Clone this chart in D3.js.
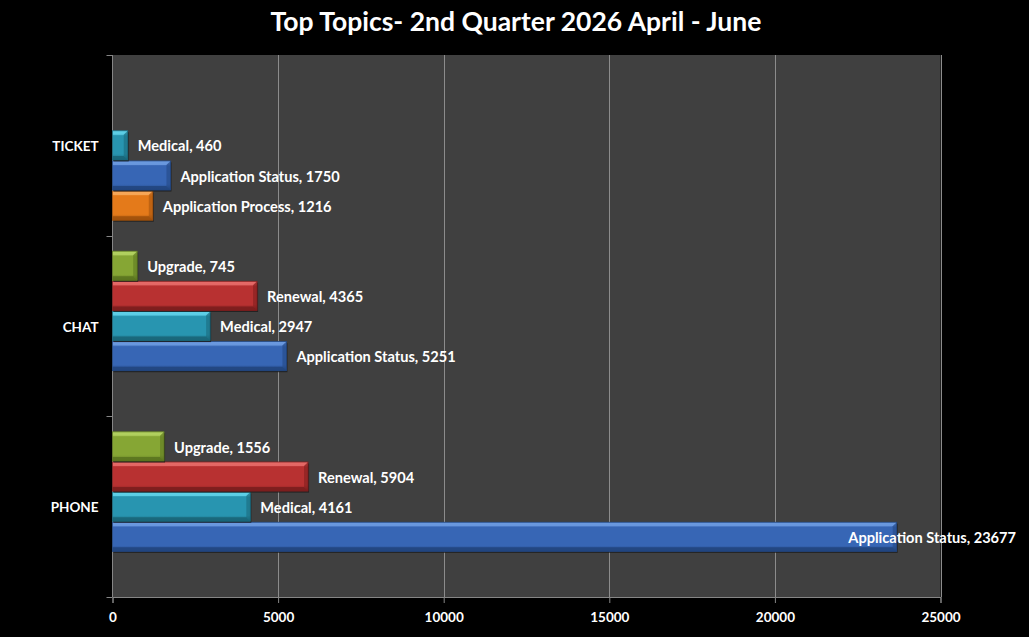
<!DOCTYPE html>
<html><head><meta charset="utf-8">
<script src="https://cdn.jsdelivr.net/npm/d3@7"></script>
<style>
html,body{margin:0;padding:0;background:#000;}
svg{display:block;}
text{font-family:Lato,"Open Sans",sans-serif;font-weight:bold;fill:#fff;}
</style></head><body>
<svg id="chart" width="1029" height="637"></svg>
<script>
const title = "Top Topics- 2nd Quarter 2026 April - June";
const categories = ["PHONE", "CHAT", "TICKET"];
const seriesNames = ["Application Process", "Application Status", "Medical", "Renewal", "Upgrade"];
const applicationProcess = [null, null, 1216];
const applicationStatus = [23677, 5251, 1750];
const medical = [4161, 2947, 460];
const renewal = [5904, 4365, null];
const upgrade = [1556, 745, null];
const xTicks = [0, 5000, 10000, 15000, 20000, 25000];
const seriesValues = [applicationProcess, applicationStatus, medical, renewal, upgrade];
const colors = {
  "Application Process": {base:"#e47a1a", light:"#f6a85a", dark:"#a0510c"},
  "Application Status": {base:"#3766b5", light:"#6c9ae0", dark:"#22467f"},
  "Medical": {base:"#2895b0", light:"#5fd0e8", dark:"#196679"},
  "Renewal": {base:"#b83131", light:"#e56a68", dark:"#7c1e1e"},
  "Upgrade": {base:"#86a634", light:"#b3d160", dark:"#5b7520"}
};

const svg = d3.select("#chart");
const W = 1029, H = 637;
const plot = {left:112.5, right:940.5, top:55, bottom:597};

svg.append("rect").attr("width", W).attr("height", H).attr("fill", "#000");
svg.append("rect").attr("x", plot.left).attr("y", plot.top)
  .attr("width", plot.right - plot.left).attr("height", plot.bottom - plot.top)
  .attr("fill", "#404040");

const x = d3.scaleLinear().domain([0, 25000]).range([plot.left, plot.right]);
const y = d3.scaleBand().domain(categories).range([plot.bottom, plot.top]).paddingInner(0).paddingOuter(0);
const ySeries = d3.scaleBand().domain(seriesNames).range([y.bandwidth() - 15, 15]).paddingInner(0);

svg.append("g").selectAll("line").data(xTicks.slice(1)).join("line")
  .attr("x1", d => Math.round(x(d)) + 0.5).attr("x2", d => Math.round(x(d)) + 0.5)
  .attr("y1", plot.top).attr("y2", plot.bottom)
  .attr("stroke", "#8c8c8c").attr("stroke-width", 1);

const xAxis = d3.axisBottom(x).tickValues(xTicks).tickFormat(d3.format("d")).tickSize(6).tickPadding(9);
const gx = svg.append("g").attr("transform", `translate(0,${plot.bottom})`).call(xAxis);
gx.select(".domain").attr("stroke", "#868686");
gx.selectAll(".tick line").attr("stroke", "#868686");
gx.selectAll(".tick text").attr("fill", "#fff").style("font-size", "13.5px").style("font-family", "Lato, sans-serif").style("font-weight", "bold");

const yAxisG = svg.append("g").attr("transform", `translate(${plot.left},0)`);
yAxisG.append("line").attr("x1", 0).attr("x2", 0).attr("y1", plot.top).attr("y2", plot.bottom).attr("stroke", "#868686");
const boundaries = [plot.top].concat(categories.map(c => y(c) + y.bandwidth()));
yAxisG.selectAll("line.tk").data(boundaries).join("line").attr("class", "tk")
  .attr("x1", -6).attr("x2", 0).attr("y1", d => Math.round(d) + 0.5).attr("y2", d => Math.round(d) + 0.5)
  .attr("stroke", "#868686");
yAxisG.selectAll("text").data(categories).join("text")
  .attr("x", -14).attr("y", c => y(c) + y.bandwidth() / 2 + 1).attr("dy", "0.35em")
  .attr("text-anchor", "end").style("font-size", "13.5px").text(c => c);

const bars = [];
categories.forEach((c, ci) => {
  seriesNames.forEach((s, si) => {
    const v = seriesValues[si][ci];
    if (v != null) bars.push({cat: c, series: s, value: v});
  });
});

const defs = svg.append("defs");
seriesNames.forEach((s, i) => {
  const g = defs.append("linearGradient").attr("id", "g" + i).attr("x1", 0).attr("x2", 0).attr("y1", 0).attr("y2", 1);
  g.append("stop").attr("offset", "0%").attr("stop-color", colors[s].light);
  g.append("stop").attr("offset", "18%").attr("stop-color", colors[s].base);
  g.append("stop").attr("offset", "80%").attr("stop-color", colors[s].base);
  g.append("stop").attr("offset", "100%").attr("stop-color", colors[s].dark);
});

const bg = svg.append("g");
bars.forEach(b => {
  const x0 = x(0), x1 = x(b.value);
  const y0 = y(b.cat) + ySeries(b.series) + 0.5;
  const h = ySeries.bandwidth() - 1;
  const w = x1 - x0;
  const col = colors[b.series];
  const g = bg.append("g");
  g.append("rect").attr("x", x0 + 1).attr("y", y0 + 1.5).attr("width", w).attr("height", h)
    .attr("fill", "#1a1a1a").attr("opacity", 0.8);
  g.append("rect").attr("x", x0).attr("y", y0).attr("width", w).attr("height", h)
    .attr("fill", `url(#g${seriesNames.indexOf(b.series)})`);
  const bv = Math.min(4, w / 2);
  g.append("polygon").attr("points", [[x0, y0], [x1, y0], [x1 - bv, y0 + bv], [x0, y0 + bv]].join(" "))
    .attr("fill", col.light).attr("opacity", 0.9);
  g.append("polygon").attr("points", [[x1, y0], [x1, y0 + h], [x1 - bv, y0 + h - bv], [x1 - bv, y0 + bv]].join(" "))
    .attr("fill", col.dark).attr("opacity", 0.55);
  g.append("polygon").attr("points", [[x0, y0 + h], [x1, y0 + h], [x1 - bv, y0 + h - bv], [x0, y0 + h - bv]].join(" "))
    .attr("fill", col.dark).attr("opacity", 0.9);
  g.append("rect").attr("x", x0).attr("y", y0).attr("width", w).attr("height", h)
    .attr("fill", "none").attr("stroke", col.dark).attr("stroke-width", 0.8);
});

const lg = svg.append("g");
bars.forEach(b => {
  const cy = y(b.cat) + ySeries(b.series) + ySeries.bandwidth() / 2 + 1;
  const t = lg.append("text").attr("y", cy).attr("dy", "0.35em").style("font-size", "14.6px")
    .text(`${b.series}, ${b.value}`);
  const tw = t.node().getComputedTextLength();
  let tx = x(b.value) + 10;
  if (tx + tw > W - 13) tx = W - 13 - tw;
  t.attr("x", tx);
});

svg.append("text").attr("x", 516).attr("y", 31).attr("text-anchor", "middle")
  .style("font-size", "26.5px").text(title);
</script>
</body></html>
